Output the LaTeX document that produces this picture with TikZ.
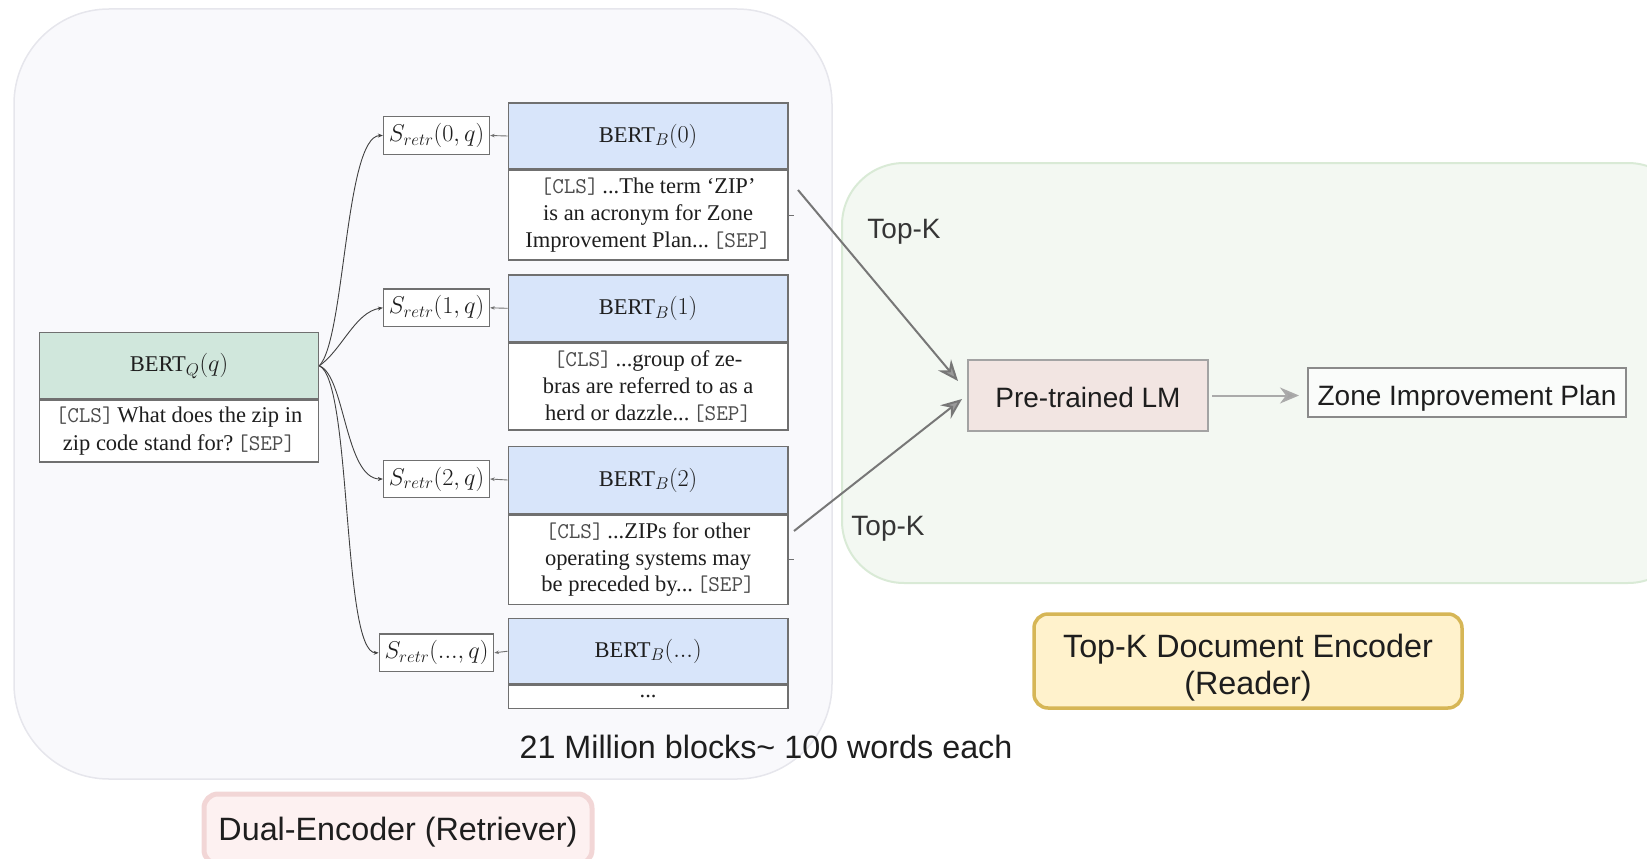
\RequirePackage{fix-cm}
\documentclass[tikz,border=0pt]{standalone}
\usepackage{fontspec}
\setmainfont{Liberation Serif}
\newfontfamily\labelfont{Liberation Sans}
\usetikzlibrary{arrows.meta}
\DeclareMathSizes{22.5}{24.3}{17}{12.2}

\definecolor{retrfill}{HTML}{F9F9FC}
\definecolor{retrline}{HTML}{E6E6EC}
\definecolor{readfill}{HTML}{F3F8F2}
\definecolor{readline}{HTML}{D9EAD6}
\definecolor{qgreen}{HTML}{D0E7DC}
\definecolor{bblue}{HTML}{D8E5FA}
\definecolor{boxgray}{HTML}{707070}
\definecolor{lmfill}{HTML}{F2E5E2}
\definecolor{lmline}{HTML}{A3A3A3}
\definecolor{zline}{HTML}{8A8A8A}
\definecolor{yfill}{HTML}{FFF2CC}
\definecolor{yline}{HTML}{D6B656}
\definecolor{pfill}{HTML}{FDF1F1}
\definecolor{pline}{HTML}{F2D6D6}
\definecolor{arrgray}{HTML}{777777}
\definecolor{headgray}{HTML}{9A9A9A}
\definecolor{zarr}{HTML}{AAAAAA}
\definecolor{ink}{HTML}{1E1E1E}

\newcommand\bertsize{\fontsize{22.5}{26.7}\selectfont}
\newcommand\labelsize{\fontsize{28}{32}\selectfont}
\newcommand\titlesize{\fontsize{32.3}{37}\selectfont}
\newcommand\tok[1]{{\color{black!70}\texttt{#1}}}

\tikzset{
  container/.style={line width=1.5pt, inner sep=0pt},
  hdrQ/.style={draw=boxgray, fill=qgreen, line width=1.5pt, inner sep=0pt,
    minimum width=279pt, minimum height=66.5pt, font=\bertsize, text=ink},
  hdrB/.style={draw=boxgray, fill=bblue, line width=1.5pt, inner sep=0pt,
    minimum width=279.4pt, minimum height=66.2pt, font=\bertsize, text=ink},
  bodybox/.style={draw=boxgray, fill=white, line width=1.5pt, inner sep=0pt,
    align=center, font=\bertsize, text=ink, anchor=north},
  sbox/.style={draw=boxgray, fill=white, line width=1.3pt, inner sep=0pt,
    minimum height=37.5pt, font=\bertsize, text=ink},
  feed/.style={draw=black!75, line width=0.9pt,
    -{Stealth[length=5pt,width=4pt]}},
  score/.style={draw=boxgray, line width=0.9pt,
    -{Stealth[length=4.5pt,width=3.5pt]}},
  topk/.style={draw=arrgray, line width=2pt,
    -{Stealth[length=21pt,width=17pt,inset=7pt,fill=headgray]}},
  outarr/.style={draw=zarr, line width=2pt,
    -{Stealth[length=19pt,width=16pt,inset=6pt,fill=headgray!90]}},
  sanslabel/.style={font=\labelfont\labelsize, text=ink!90, inner sep=0pt},
  tag/.style={font=\labelfont\titlesize, text=ink, align=center, inner sep=0pt},
}

\begin{document}
\begin{tikzpicture}[x=1pt,y=-1pt]
\useasboundingbox (0,0) rectangle (1647,859);
\clip (0,0) rectangle (1647,859);

% the two grouping panels
\node[container, draw=retrline, fill=retrfill, rounded corners=95pt,
  minimum width=818pt, minimum height=770pt] (retr) at (423,394) {};
\node[container, draw=readline, fill=readfill, rounded corners=62pt, line width=2pt,
  minimum width=848pt, minimum height=420pt] (read) at (1266,373) {};

% question encoder
\node[hdrQ] (q) at (179,365.8) {BERT$_Q(q)$};
\node[bodybox, minimum width=279pt, minimum height=61.5pt,
  font=\fontsize{22.5}{28}\selectfont] (qt) at (q.south)
  {\tok{[CLS]}\,What does the zip in\\zip code stand for?\,\tok{[SEP]}};

% block encoders
\node[hdrB] (b0) at (648.1,136) {BERT$_B(0)$};
\node[bodybox, minimum width=279.4pt, minimum height=89.3pt] (p0) at (b0.south)
  {\tok{[CLS]}\,...The term ‘ZIP’\\is an acronym for Zone\\Improvement Plan...\,\tok{[SEP]}};

\node[hdrB] (b1) at (648.1,308.3) {BERT$_B(1)$};
\node[bodybox, minimum width=279.4pt, minimum height=87.2pt] (p1) at (b1.south)
  {\tok{[CLS]}\,...group of ze-\\bras are referred to as a\\herd or dazzle...\,\tok{[SEP]}};

\node[hdrB, minimum height=67.2pt] (b2) at (648.1,480) {BERT$_B(2)$};
\node[bodybox, minimum width=279.4pt, minimum height=89.3pt] (p2) at (b2.south)
  {\tok{[CLS]}\,...ZIPs for other\\operating systems may\\be preceded by...\,\tok{[SEP]}};

\node[hdrB, minimum height=65.1pt] (b3) at (648.1,651.2) {BERT$_B(...)$};
\node[bodybox, minimum width=279.4pt, minimum height=23.1pt] (p3) at (b3.south) {...};

% retrieval scores
\node[sbox, minimum width=106pt] (s0) at (436.5,135.5) {$S_{retr}(0,q)$};
\node[sbox, minimum width=106pt] (s1) at (436.5,307.8) {$S_{retr}(1,q)$};
\node[sbox, minimum width=106pt] (s2) at (436.5,479) {$S_{retr}(2,q)$};
\node[sbox, minimum width=114.5pt] (s3) at (436.5,652.8) {$S_{retr}(...,q)$};

\draw[score] (b0.west) -- (s0.east);
\draw[score] (b1.west) -- (s1.east);
\draw[score] (b2.west) -- (s2.east);
\draw[score] (b3.west) -- (s3.east);

\draw[feed] (q.east) .. controls (345,340) and (345,136) .. (s0.west);
\draw[feed] (q.east) .. controls (342,350) and (355,312) .. (s1.west);
\draw[feed] (q.east) .. controls (345,375) and (345,479) .. (s2.west);
\draw[feed] (q.east) .. controls (352,380) and (342,653) .. (s3.west);

% stubs on the passage boxes
\coordinate (k0) at (798,190);
\coordinate (k2) at (794,531);
\draw[boxgray, line width=1pt] (p0.east) -- ++(5,0);
\draw[boxgray, line width=1pt] (p2.east) -- ++(5,0);

% reader
\node[draw=lmline, fill=lmfill, line width=2pt, minimum width=240pt, minimum height=71pt,
  text height=24pt, text depth=0pt, font=\labelfont\labelsize, text=ink]
  (lm) at (1088,395.5) {Pre-trained LM};
\node[draw=zline, fill=white!60!readfill, line width=2pt, minimum width=318pt,
  minimum height=49.5pt, text height=26pt, text depth=0pt, font=\labelfont\labelsize, text=ink]
  (zone) at (1467,392.3) {Zone Improvement Plan};

\draw[topk] (k0) -- ([shift={(-9,-14.5)}]lm.west);
\draw[topk] (k2) -- ([shift={(-5,3.5)}]lm.west);
\draw[outarr, shorten <=3pt, shorten >=8pt] (lm.east) -- (lm.east -| zone.west);

\node[sanslabel] (topa) at (904,232) {Top-K};
\node[sanslabel] (topb) at (888,529) {Top-K};

% captions
\node[tag] (blocks) at (766,747) {21 Million blocks\char`~\ 100 words each};
\node[draw=yline, fill=yfill, line width=3.5pt, rounded corners=14pt,
  minimum width=428pt, minimum height=94pt, tag, text height=74pt]
  (enc) at (1248,661) {Top-K Document Encoder\\(Reader)};
\node[draw=pline, fill=pfill, line width=5pt, rounded corners=14pt,
  minimum width=388pt, minimum height=70pt, tag, text depth=0pt] (dual) at (398,829)
  {Dual-Encoder (Retriever)};
\end{tikzpicture}
\end{document}
